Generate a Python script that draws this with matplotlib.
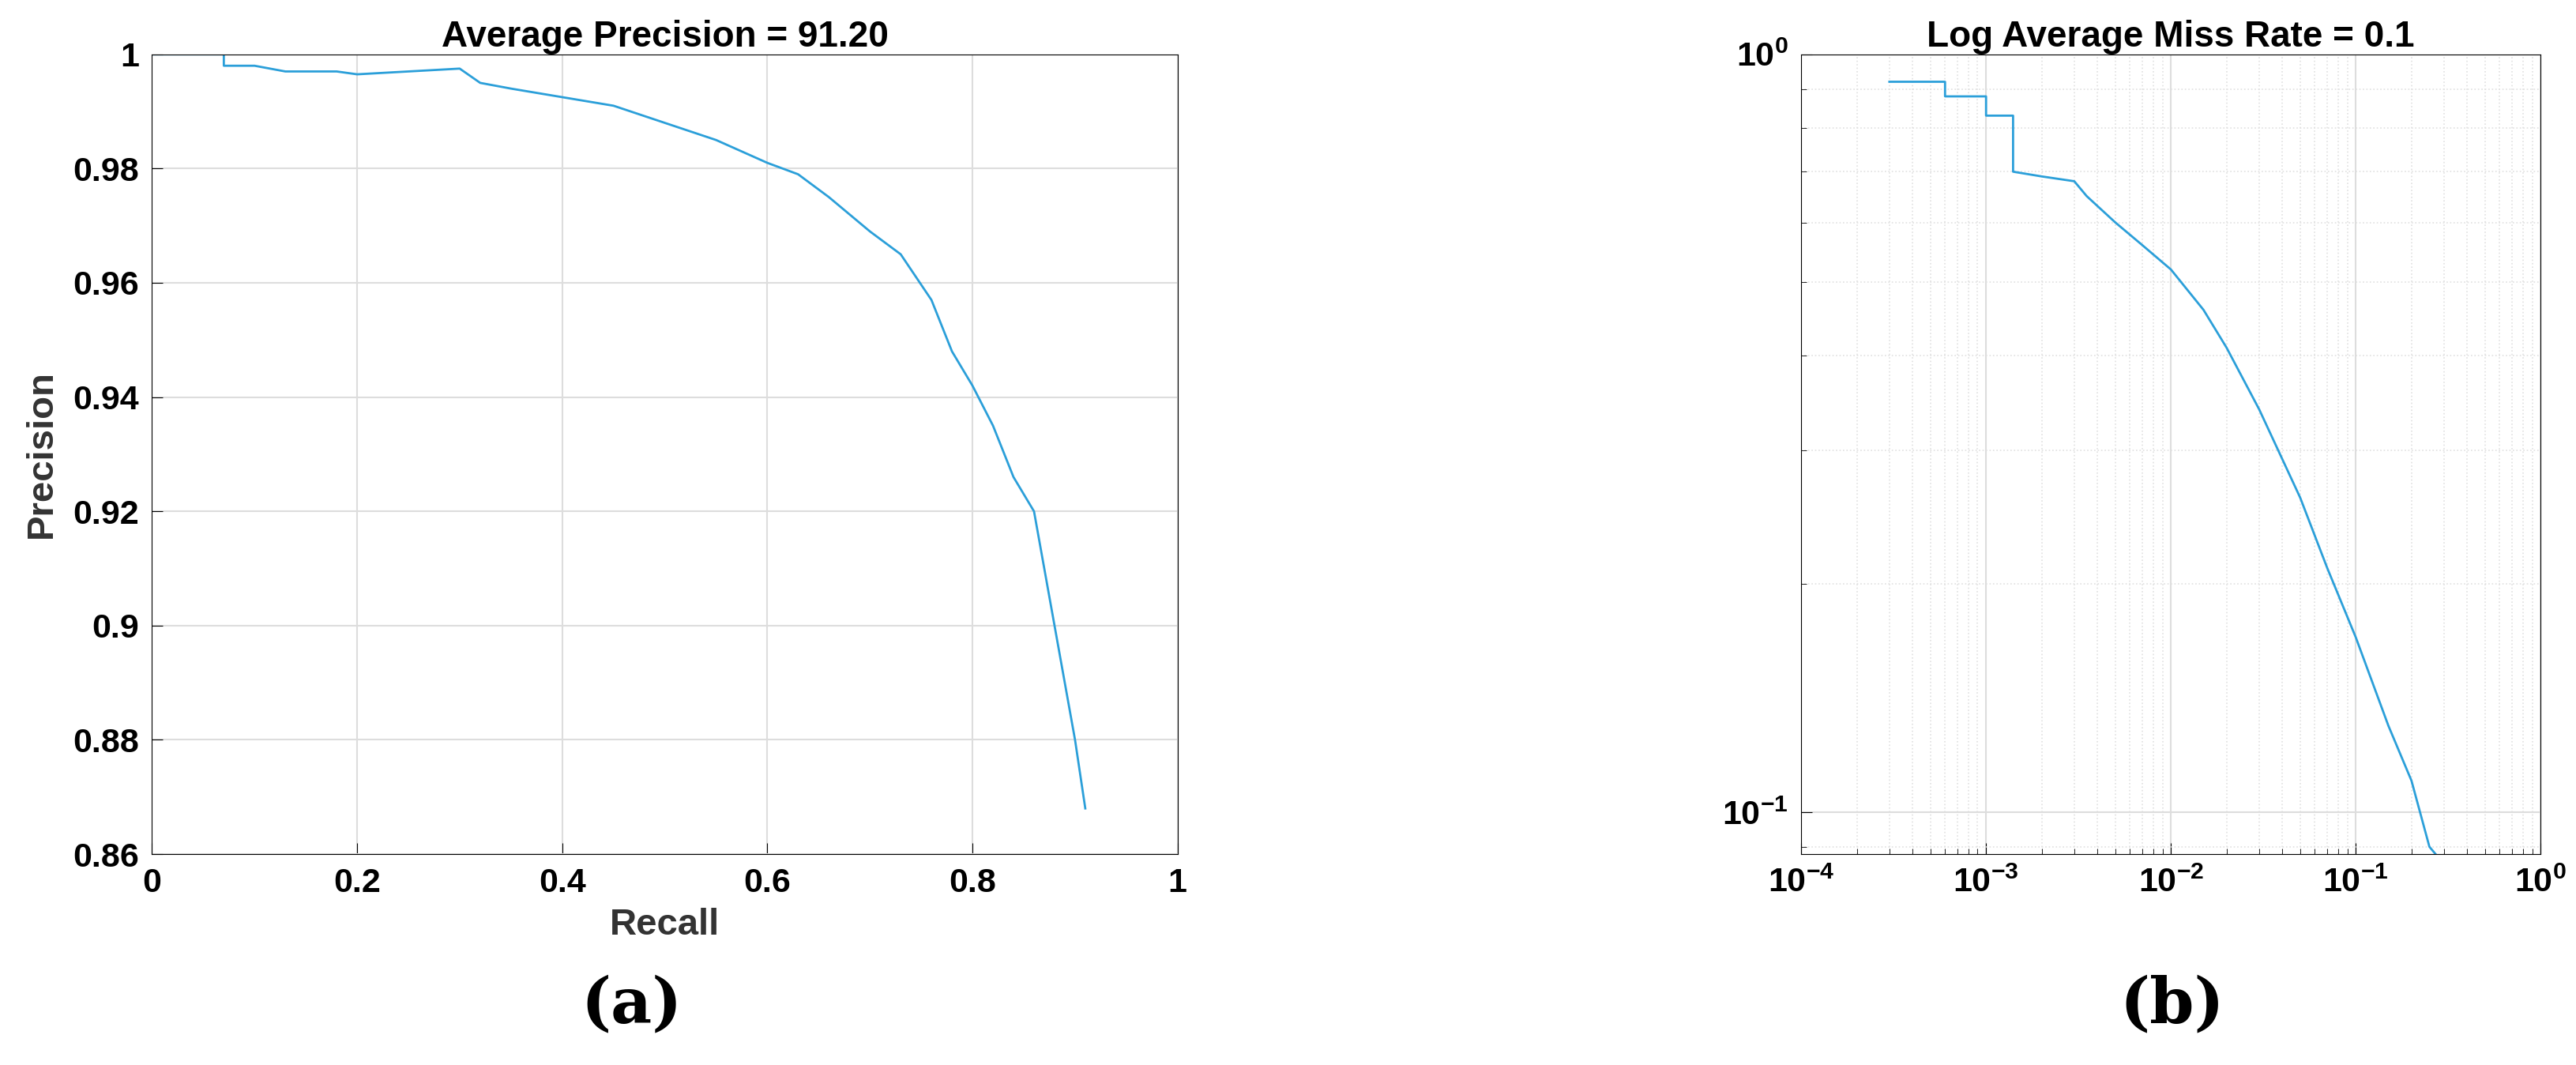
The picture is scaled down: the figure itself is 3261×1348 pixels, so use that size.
import numpy as np
import matplotlib.pyplot as plt
from matplotlib.ticker import LogLocator, NullFormatter

# PR curve (a)
recall = [0, 0.07, 0.07, 0.10, 0.13, 0.18, 0.20, 0.30, 0.32, 0.35, 0.40, 0.45, 0.50, 0.55,
          0.60, 0.63, 0.66, 0.70, 0.73, 0.76, 0.78, 0.80, 0.82, 0.84, 0.86, 0.87, 0.88,
          0.89, 0.90, 0.91]
precision = [1.0, 1.0, 0.998, 0.998, 0.997, 0.997, 0.9965, 0.9975, 0.995, 0.994, 0.9925,
             0.991, 0.988, 0.985, 0.981, 0.979, 0.975, 0.969, 0.965, 0.957, 0.948, 0.942,
             0.935, 0.926, 0.92, 0.91, 0.90, 0.89, 0.88, 0.868]

# miss rate curve (b)
fppi = [3e-4, 6e-4, 6e-4, 1e-3, 1e-3, 1.4e-3, 1.4e-3, 2e-3, 3e-3, 3.5e-3, 5e-3, 7e-3,
        1e-2, 1.5e-2, 2e-2, 3e-2, 5e-2, 7e-2, 0.1, 0.15, 0.2, 0.25, 0.27]
miss = [0.92, 0.92, 0.88, 0.88, 0.83, 0.83, 0.70, 0.69, 0.68, 0.65, 0.60, 0.56, 0.52,
        0.46, 0.41, 0.34, 0.26, 0.21, 0.17, 0.13, 0.11, 0.09, 0.088]

plt.rcParams['font.family'] = 'Liberation Sans'
plt.rcParams['font.weight'] = 'bold'
line_color = '#2b9fd9'

fig = plt.figure(figsize=(32.62, 13.48), dpi=100)

ax1 = fig.add_axes([0.059, 0.198, 0.398, 0.751])
ax1.plot(recall, precision, color=line_color, lw=2)
ax1.set_xlim(0, 1)
ax1.set_ylim(0.86, 1)
ax1.set_xticks([0, 0.2, 0.4, 0.6, 0.8, 1])
ax1.set_xticklabels(['0', '0.2', '0.4', '0.6', '0.8', '1'])
ax1.set_yticks([0.86, 0.88, 0.9, 0.92, 0.94, 0.96, 0.98, 1])
ax1.set_yticklabels(['0.86', '0.88', '0.9', '0.92', '0.94', '0.96', '0.98', '1'])
ax1.grid(True, color='#dddddd', lw=1.5)
ax1.set_title('Average Precision = 91.20', fontsize=33, fontweight='bold', pad=4)
ax1.set_xlabel('Recall', fontsize=34, fontweight='bold', color='#333333', labelpad=8)
ax1.set_ylabel('Precision', fontsize=34, fontweight='bold', color='#333333', labelpad=12)
ax1.tick_params(labelsize=31, direction='in', length=10, pad=12)

ax2 = fig.add_axes([0.699, 0.198, 0.287, 0.751])
ax2.plot(fppi, miss, color=line_color, lw=2)
ax2.set_xscale('log')
ax2.set_yscale('log')
ax2.set_xlim(1e-4, 1)
ax2.set_ylim(0.088, 1)
ax2.set_yticks([0.1, 1])
ax2.yaxis.set_minor_locator(LogLocator(subs=np.arange(2, 10)))
ax2.yaxis.set_minor_formatter(NullFormatter())
ax2.xaxis.set_minor_locator(LogLocator(subs=np.arange(2, 10)))
ax2.xaxis.set_minor_formatter(NullFormatter())
ax2.grid(True, which='major', color='#dddddd', lw=1.5)
ax2.grid(True, which='minor', color='#e0e0e0', lw=1.2, ls=':')
ax2.set_title('Log Average Miss Rate = 0.1', fontsize=33, fontweight='bold', pad=4)
ax2.tick_params(which='both', labelsize=31, direction='in', pad=12)
ax2.tick_params(which='major', length=10)
ax2.tick_params(which='minor', length=5)

fig.text(0.245, 0.04, '(a)', fontsize=58, family='DejaVu Serif', ha='center')
fig.text(0.843, 0.04, '(b)', fontsize=58, family='DejaVu Serif', ha='center')

fig.savefig('out.png', dpi=100)
